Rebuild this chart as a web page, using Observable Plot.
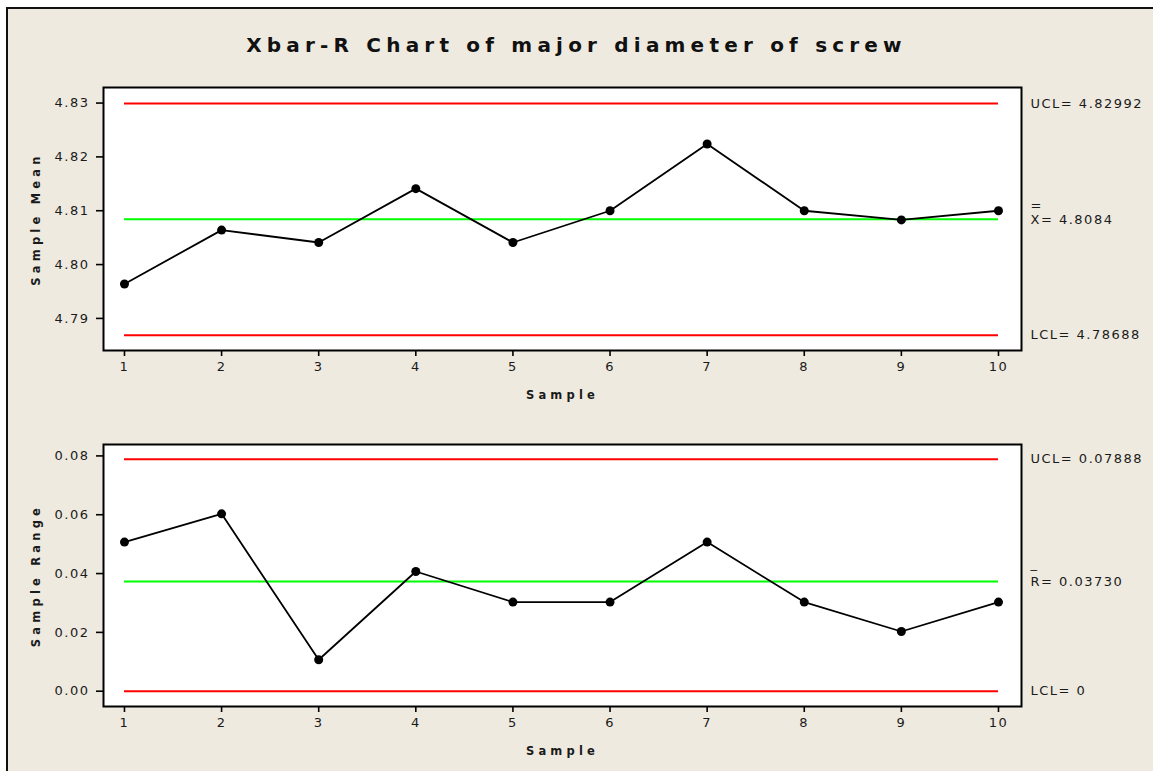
<!DOCTYPE html>
<html>
<head>
<meta charset="utf-8">
<script src="https://cdn.jsdelivr.net/npm/d3@7"></script>
<script src="https://cdn.jsdelivr.net/npm/@observablehq/plot@0.6"></script>
<style>
  html, body { margin: 0; padding: 0; background: #ffffff; }
  #wrap { position: relative; width: 1153px; height: 771px; overflow: hidden; background: #ffffff; font-family: "DejaVu Sans", sans-serif; }
  #panel { position: absolute; left: 6px; top: 7px; right: 0; bottom: 0; background: #EEEAE0; border-top: 2.5px solid #111; border-left: 2.5px solid #111; }
  #title { position: absolute; left: 0; width: 1153px; top: 33px; text-align: center; font: bold 20px "DejaVu Sans", sans-serif; letter-spacing: 5.2px; color: #111; }
  .chart { position: absolute; left: 0; }
  .chart svg { overflow: visible; }
</style>
</head>
<body>
<div id="wrap">
  <div id="panel"></div>
  <div id="title">Xbar-R Chart of major diameter of screw</div>
  <div id="top" class="chart" style="top:70px"></div>
  <div id="bottom" class="chart" style="top:428px"></div>
</div>
<script>
// ---- data ----
const samples = [1, 2, 3, 4, 5, 6, 7, 8, 9, 10];
const sampleMeans = [4.7964, 4.8064, 4.8041, 4.8141, 4.8041, 4.8100, 4.8224, 4.8100, 4.8083, 4.8100];
const sampleRanges = [0.0507, 0.0603, 0.0107, 0.0407, 0.0303, 0.0303, 0.0507, 0.0303, 0.0203, 0.0303];
const meanLimits = { ucl: 4.82992, cl: 4.8084, lcl: 4.78688 };
const rangeLimits = { ucl: 0.07888, cl: 0.03730, lcl: 0 };
const meanTicks = [4.79, 4.80, 4.81, 4.82, 4.83];
const rangeTicks = [0.00, 0.02, 0.04, 0.06, 0.08];
const meanLabels = ["UCL=4.82992", "X=4.8084", "LCL=4.78688"];
const rangeLabels = ["UCL=0.07888", "R=0.03730", "LCL=0"];

const xDomain = [0.784, 10.237];
const ink = "#1a1a1a";

function controlChart({values, limits, ticks, yDomain, yLabel, rightLabels, barGlyph, barDy, marginTop, height, marginBottom}) {
  const pts = samples.map((s, i) => ({s, v: values[i]}));
  const limitRows = [
    {v: limits.ucl, t: rightLabels[0]},
    {v: limits.cl, t: rightLabels[1]},
    {v: limits.lcl, t: rightLabels[2]}
  ];
  const fmtLabel = (t) => t.replace("=", "= ");
  return Plot.plot({
    width: 1153,
    height,
    marginLeft: 103,
    marginRight: 132,
    marginTop,
    marginBottom,
    style: {background: "transparent", fontFamily: "DejaVu Sans, sans-serif", fontSize: "13px", color: ink, letterSpacing: "1.5px"},
    x: {domain: xDomain},
    y: {domain: yDomain},
    marks: [
      Plot.frame({fill: "white", stroke: null}),
      Plot.ruleY([limits.ucl, limits.lcl], {x1: samples[0], x2: samples[samples.length - 1], stroke: "#FF0000", strokeWidth: 2}),
      Plot.ruleY([limits.cl], {x1: samples[0], x2: samples[samples.length - 1], stroke: "#00FF00", strokeWidth: 2}),
      Plot.line(pts, {x: "s", y: "v", stroke: "black", strokeWidth: 1.8}),
      Plot.dot(pts, {x: "s", y: "v", r: 4.5, fill: "black", stroke: null}),
      Plot.frame({stroke: "black", strokeWidth: 2}),
      Plot.axisX({ticks: samples, tickFormat: d3.format("d"), tickSize: 6, tickPadding: 5, label: null, stroke: "black", strokeWidth: 1.6, fontSize: 13}),
      Plot.axisY({ticks, tickFormat: d3.format(".2f"), tickSize: 7, tickPadding: 7, label: null, stroke: "black", strokeWidth: 1.6, fontSize: 13}),
      Plot.text([yLabel], {frameAnchor: "left", text: d => d, rotate: -90, dx: -67, textAnchor: "middle", lineAnchor: "middle", fontWeight: "bold", fontSize: 11.5, fill: ink}),
      Plot.text(["Sample"], {frameAnchor: "bottom", text: d => d, dy: 45, textAnchor: "middle", lineAnchor: "middle", fontWeight: "bold", fontSize: 11.5, fill: ink}),
      Plot.text(limitRows, {y: "v", frameAnchor: "right", text: d => fmtLabel(d.t), textAnchor: "start", dx: 9, fill: ink, fontSize: 13}),
      Plot.text([limits.cl], {y: d => d, frameAnchor: "right", text: () => barGlyph, textAnchor: "start", dx: 9, dy: barDy, fill: ink, fontSize: 13})
    ]
  });
}

const topChart = controlChart({
  values: sampleMeans, limits: meanLimits, ticks: meanTicks,
  yDomain: [4.78404, 4.83289], yLabel: "Sample Mean", rightLabels: meanLabels,
  barGlyph: "=", barDy: -14, marginTop: 17, height: 340, marginBottom: 60
});
const bottomChart = controlChart({
  values: sampleRanges, limits: rangeLimits, ticks: rangeTicks,
  yDomain: [-0.0052, 0.08388], yLabel: "Sample Range", rightLabels: rangeLabels,
  barGlyph: "_", barDy: -18, marginTop: 16, height: 343, marginBottom: 65
});
document.getElementById("top").appendChild(topChart);
document.getElementById("bottom").appendChild(bottomChart);
// bold axis titles are spaced wider than tick labels
for (const svg of [topChart, bottomChart]) {
  svg.querySelectorAll("text").forEach(t => {
    if (["Sample", "Sample Mean", "Sample Range"].includes(t.textContent)) t.style.letterSpacing = "4.2px";
  });
}
</script>
</body>
</html>
